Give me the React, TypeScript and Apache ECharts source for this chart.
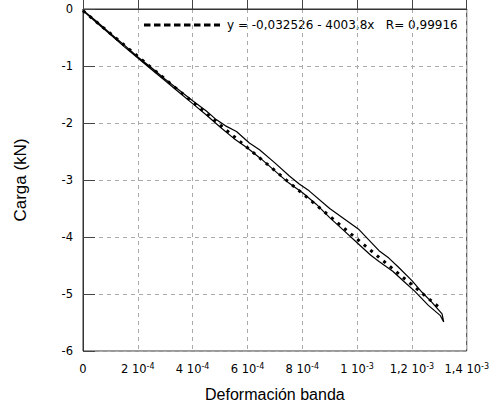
import React, { useEffect, useRef } from "react";
import * as echarts from "echarts";

// strain values in units of 1e-4
const upperX = [0, 0.5, 1, 1.5, 2, 2.5, 3, 3.5, 4, 4.5, 4.86, 5.2, 5.6, 6.07, 6.44, 7, 7.53, 7.89, 8.25, 9, 10.07, 10.8, 11.16, 11.53, 12.01, 12.37, 12.74, 13.1, 13.16];
const upperY = [-0.02, -0.22, -0.43, -0.63, -0.84, -1.03, -1.23, -1.42, -1.61, -1.79, -1.94, -2.05, -2.15, -2.35, -2.47, -2.7, -2.93, -3.07, -3.19, -3.5, -3.87, -4.24, -4.37, -4.54, -4.77, -4.97, -5.15, -5.35, -5.49];
const lowerX = [13.16, 13.04, 12.6, 12.1, 11.8, 11.3, 10.8, 10.5, 10, 9.5, 9, 8.5, 8, 7.5, 7, 6.5, 6, 5.5, 5, 4.5, 4, 3.5, 3, 2.5, 2, 1.5, 1, 0.5, 0];
const lowerY = [-5.49, -5.38, -5.2, -4.95, -4.82, -4.6, -4.43, -4.32, -4.1, -3.88, -3.66, -3.42, -3.22, -3.05, -2.84, -2.63, -2.44, -2.27, -2.07, -1.86, -1.66, -1.46, -1.26, -1.06, -0.86, -0.66, -0.45, -0.24, -0.03];
const fitX = [0, 13.08];
const fitY = [-0.03, -5.27];

const xTicks = ["0", "2 10|-4", "4 10|-4", "6 10|-4", "8 10|-4", "1 10|-3", "1,2 10|-3", "1,4 10|-3"];
const fitLabel = "y = -0,032526 - 4003,8x   R= 0,99916";

const SCALE = 1e-4;

export default function App() {
  const ref = useRef<HTMLDivElement>(null);
  useEffect(() => {
    document.body.style.margin = "0";
    const chart = echarts.init(ref.current!, null, { renderer: "svg" });
    const loop = [
      ...upperX.map((x, i) => [x * SCALE, upperY[i]]),
      ...lowerX.map((x, i) => [x * SCALE, lowerY[i]]),
    ];
    const fit = fitX.map((x, i) => [x * SCALE, fitY[i]]);
    const font = "Arial, 'Liberation Sans', sans-serif";
    const tickFont = "'DejaVu Sans', sans-serif";
    chart.setOption({
      animation: false,
      textStyle: { fontFamily: font },
      grid: { left: 83, right: 23, top: 9, bottom: 51, show: true, borderColor: "#333", borderWidth: 1 },
      xAxis: {
        type: "value",
        min: 0,
        max: 1.4e-3,
        interval: 2e-4,
        name: "Deformación banda",
        nameLocation: "middle",
        nameGap: 35,
        nameTextStyle: { fontSize: 16, color: "#000", fontFamily: font },
        axisLine: { lineStyle: { color: "#333" } },
        axisTick: { inside: true, length: 12, lineStyle: { color: "#444" } },
        splitLine: { show: true, lineStyle: { type: [4, 4], color: "#aaa" } },
        axisLabel: {
          color: "#000",
          margin: 11,
          formatter: (v: number) => {
            const idx = Math.round(v / 2e-4);
            const t = xTicks[idx] ?? "";
            if (t.indexOf("|") < 0) return "{a|" + t + "}";
            const [base, exp] = t.split("|");
            return "{a|" + base + "}{s|" + exp + "}";
          },
          rich: {
            a: { fontSize: 11.5, color: "#000", fontFamily: tickFont, lineHeight: 14 },
            s: { fontSize: 8, color: "#000", fontFamily: tickFont, lineHeight: 14, padding: [0, 0, 6, 0] },
          },
        },
      },
      yAxis: {
        type: "value",
        min: -6,
        max: 0,
        interval: 1,
        name: "Carga (kN)",
        nameLocation: "middle",
        nameGap: 54,
        nameTextStyle: { fontSize: 17, color: "#000", fontFamily: font },
        axisLine: { lineStyle: { color: "#333" } },
        axisTick: { inside: true, length: 12, lineStyle: { color: "#444" } },
        splitLine: { show: true, lineStyle: { type: [4, 4], color: "#aaa" } },
        axisLabel: { color: "#000", fontSize: 11.5, margin: 10, fontFamily: tickFont },
      },
      series: [
        {
          type: "line",
          data: loop,
          showSymbol: false,
          symbol: "none",
          lineStyle: { color: "#000", width: 1.2 },
          z: 3,
        },
        {
          type: "line",
          data: fit,
          showSymbol: false,
          symbol: "none",
          lineStyle: { color: "#000", width: 3, type: [3, 5.5] },
          z: 4,
        },
      ],
      graphic: [
        {
          type: "line",
          shape: { x1: 144, y1: 25, x2: 220, y2: 25 },
          style: { stroke: "#000", lineWidth: 3, lineDash: [6.5, 3.5] },
        },
        {
          type: "text",
          x: 227,
          y: 25,
          style: { text: fitLabel, fill: "#000", font: "12px 'DejaVu Sans', sans-serif", verticalAlign: "middle" },
        },
      ],
    });
    return () => chart.dispose();
  }, []);
  return <div ref={ref} style={{ width: 492, height: 407 }} />;
}
